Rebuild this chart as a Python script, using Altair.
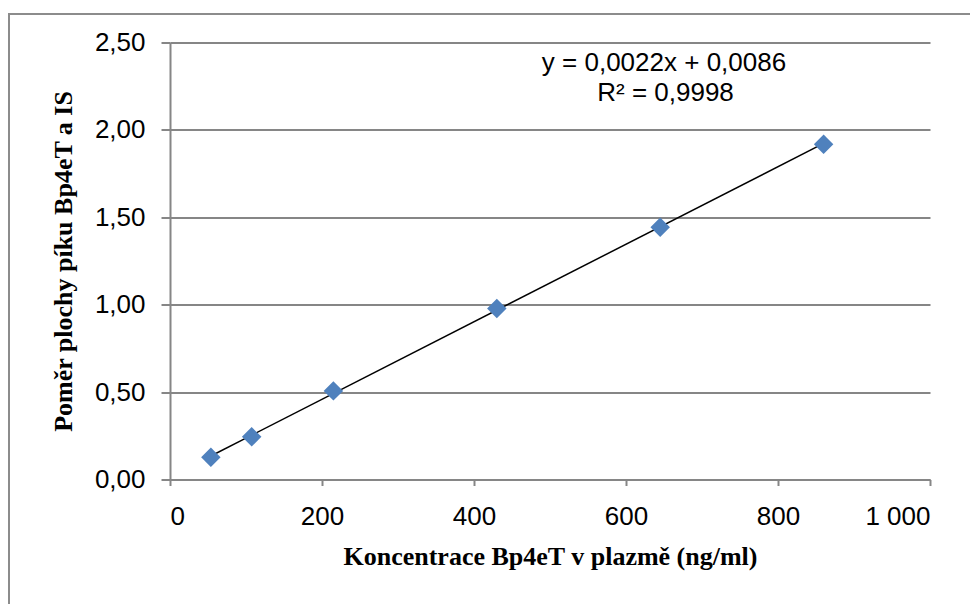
import altair as alt
import pandas as pd

concentration = [53.75, 107.5, 215, 430, 645, 860]
ratio = [0.127, 0.244, 0.507, 0.978, 1.443, 1.918]
x_ticks = [0, 200, 400, 600, 800, 1000]
y_ticks = [0, 0.5, 1.0, 1.5, 2.0, 2.5]
eq_lines = ["y = 0,0022x + 0,0086", "R² = 0,9998"]

df = pd.DataFrame({"x": concentration, "y": ratio})
ann = pd.DataFrame({"x": [650, 652], "y": [2.385, 2.21], "t": eq_lines})

x_enc = alt.X("x:Q", scale=alt.Scale(domain=[0, 1000], nice=False),
              axis=alt.Axis(values=x_ticks, grid=False,
                            title="Koncentrace Bp4eT v plazmě (ng/ml)",
                            labelExpr="replace(format(datum.value, ','), ',', ' ')"))
y_enc = alt.Y("y:Q", scale=alt.Scale(domain=[0, 2.5], nice=False),
              axis=alt.Axis(values=y_ticks, grid=True,
                            title="Poměr plochy píku Bp4eT a IS",
                            labelExpr="replace(format(datum.value, '.2f'), '.', ',')"))

border = alt.Chart(pd.DataFrame({"a": [0]})).mark_rect(
    fill=None, stroke="#8c8c8c", strokeWidth=2
).encode(x=alt.value(-161), x2=alt.value(820), y=alt.value(-28.5), y2=alt.value(620))

points = alt.Chart(df).mark_point(
    shape="diamond", filled=True, size=380, color="#4F81BD", opacity=1
).encode(x=x_enc, y=y_enc)

trend = alt.Chart(df).transform_regression("x", "y").mark_line(
    color="black", strokeWidth=1.5
).encode(x="x:Q", y="y:Q")

text = alt.Chart(ann).mark_text(
    font="Liberation Sans", fontSize=26, color="black", align="center", baseline="middle"
).encode(x="x:Q", y="y:Q", text="t:N")

chart = alt.layer(border, trend, points, text).properties(
    width=760, height=437,
    autosize=alt.AutoSizeParams(type="none"),
    padding={"left": 162, "top": 34.5, "right": 40, "bottom": 124},
).configure_view(stroke=None).configure_axis(
    domainColor="#868686", domainWidth=2, tickColor="#868686", tickWidth=2,
    gridColor="#868686", gridWidth=2,
    labelFont="Liberation Sans", labelFontSize=26, labelColor="black",
    titleFont="Liberation Serif", titleFontSize=26, titleFontWeight="bold", titleColor="black",
).configure_axisX(
    tickSize=6, labelPadding=18, titlePadding=14
).configure_axisY(
    tickSize=9, labelPadding=16, titlePadding=18
)

chart.save("out.html", embed_options={"renderer": "svg", "actions": False})
